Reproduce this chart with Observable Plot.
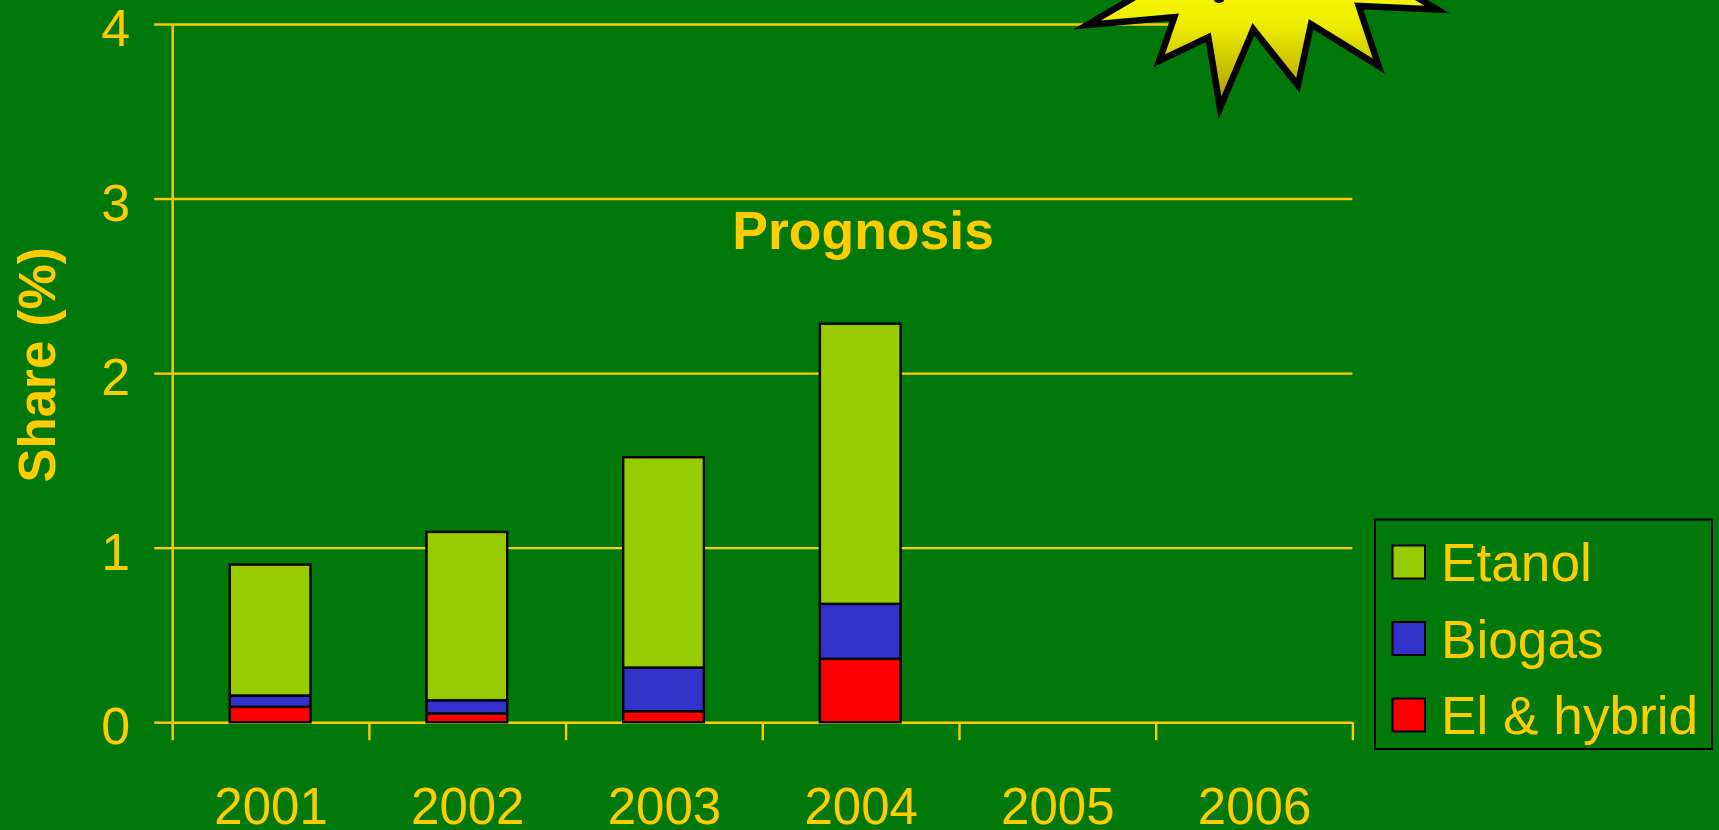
<!DOCTYPE html>
<html>
<head>
<meta charset="utf-8">
<script src="https://cdn.jsdelivr.net/npm/d3@7"></script>
<script src="https://cdn.jsdelivr.net/npm/@observablehq/plot@0.6"></script>
<style>
html,body{margin:0;padding:0;background:#00780A;overflow:hidden}
svg{display:block}
</style>
</head>
<body>
<div id="chart"></div>
<script>
const years = [2001, 2002, 2003, 2004, 2005, 2006];
const seriesNames = ["El & hybrid", "Biogas", "Etanol"];
const seriesColors = ["#FF0000", "#3333CC", "#99CC00"];
const elHybrid = [0.088, 0.05, 0.063, 0.363];
const biogas = [0.065, 0.076, 0.25, 0.315];
const etanol = [0.75, 0.964, 1.205, 1.605];
const yTicks = [0, 1, 2, 3, 4];
const legendOrder = ["Etanol", "Biogas", "El & hybrid"];

const gold = "#FFCC00";
const font = "'Liberation Sans', Arial, sans-serif";

const rows = [];
[elHybrid, biogas, etanol].forEach((vals, s) => {
  vals.forEach((v, i) => rows.push({year: years[i], series: seriesNames[s], value: v}));
});
const edges = [...years, years[years.length - 1] + 1];

// Decorative starburst callout, cut by the top edge as in the reference
const burstOutline = [[1087,25],[1174.3,17.3],[1159.3,60.7],[1208.3,37.3],[1220,108],[1253.3,29.3],[1298,85.3],[1311,24.3],[1378.7,66],[1358.7,6],[1437,9.5],[1380,-25],[1150,-12]];

function burst() {
  const g = d3.create("svg:g");
  const grad = g.append("defs").append("linearGradient")
    .attr("id", "burstFill").attr("gradientUnits", "userSpaceOnUse")
    .attr("x1", 0).attr("x2", 0).attr("y1", -8).attr("y2", 107);
  grad.append("stop").attr("offset", 0).attr("stop-color", "#F8F800");
  grad.append("stop").attr("offset", 0.3).attr("stop-color", "#ECEC00");
  grad.append("stop").attr("offset", 1).attr("stop-color", "#A89600");
  g.append("polygon")
    .attr("points", burstOutline.map(p => p.join(",")).join(" "))
    .attr("fill", "url(#burstFill)").attr("stroke", "#000")
    .attr("stroke-width", 6.5).attr("stroke-linejoin", "miter").attr("stroke-miterlimit", 12);
  g.append("ellipse").attr("cx", 1219).attr("cy", 0).attr("rx", 5).attr("ry", 3).attr("fill", "#000");
  return g.node();
}

function legend() {
  const g = d3.create("svg:g");
  g.append("rect").attr("x", 1375).attr("y", 519.5).attr("width", 337).attr("height", 229.5)
    .attr("fill", "none").attr("stroke", "#000").attr("stroke-width", 2);
  const swatchY = [545.5, 622, 698.5];
  const baseY = [581, 657.5, 734];
  legendOrder.forEach((name, i) => {
    g.append("rect").attr("x", 1392.5).attr("y", swatchY[i]).attr("width", 32.5).attr("height", 33)
      .attr("fill", seriesColors[seriesNames.indexOf(name)]).attr("stroke", "#000").attr("stroke-width", 2);
    g.append("text").attr("x", 1441).attr("y", baseY[i]).attr("fill", gold)
      .attr("text-anchor", "start")
      .attr("font-size", 53.2).attr("font-family", font).text(name);
  });
  return g.node();
}

const chart = Plot.plot({
  width: 1719,
  height: 830,
  marginLeft: 172.2,
  marginRight: 366.6,
  marginTop: 24,
  marginBottom: 107.8,
  style: {background: "#00780A", color: gold, fontFamily: font, overflow: "hidden"},
  x: {type: "linear", domain: [2001, 2007], label: null},
  y: {domain: [0, 4], label: null},
  color: {domain: seriesNames, range: seriesColors},
  marks: [
    Plot.ruleY(yTicks, {x1: 2001, x2: 2007, stroke: gold, strokeWidth: 2.4}),
    Plot.ruleX([2001], {y1: 0, y2: 4, stroke: gold, strokeWidth: 2.4}),
    Plot.axisY({ticks: yTicks, tickSize: 18, strokeWidth: 2.4, tickFormat: () => "", label: null}),
    Plot.axisY({ticks: yTicks, tickSize: 0, tickPadding: 42.5, fontSize: 52, label: null, tickFormat: d => String(d), dy: 5}),
    Plot.axisX({ticks: edges, tickSize: 18, strokeWidth: 2.4, tickFormat: () => "", label: null}),
    Plot.axisX({ticks: years.map(y => y + 0.5), tickSize: 0, tickPadding: 65, fontSize: 51, label: null, tickFormat: d => String(d - 0.5)}),
    Plot.rectY(rows, {
      x1: "year",
      x2: d => d.year + 1,
      y: "value",
      fill: "series",
      stroke: "#000",
      strokeWidth: 2.4,
      insetLeft: 57.6,
      insetRight: 58.4,
      order: seriesNames
    }),
    Plot.text(["Prognosis"], {x: 2004.51, y: 2.81, text: d => d, fontSize: 53.5, fontWeight: "bold", fill: gold}),
    Plot.text(["Share (%)"], {x: 2001, y: 2.05, text: d => d, fontSize: 51, fontWeight: "bold", fill: gold, rotate: -90, dx: -134}),
    burst,
    legend
  ]
});
document.getElementById("chart").append(chart);
</script>
</body>
</html>
